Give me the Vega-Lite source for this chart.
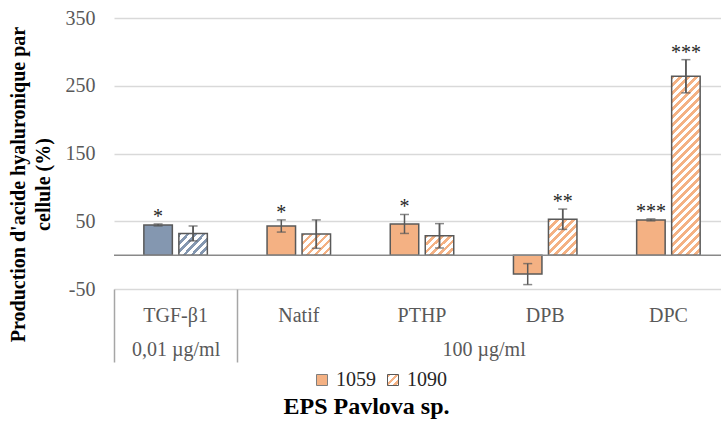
{
  "$schema": "https://vega.github.io/schema/vega-lite/v6.json",
  "width": 616,
  "height": 271,
  "autosize": {"type": "none"},
  "padding": {"left": 114, "top": 18, "right": 0, "bottom": 148},
  "config": {
    "font": "Liberation Serif",
    "view": {"stroke": null},
    "axis": {"labelFont": "Liberation Serif", "titleFont": "Liberation Serif"},
    "legend": {"labelFont": "Liberation Serif"}
  },
  "datasets": {
    "bars": [
      {"cat": "TGF-β1", "series": "1059", "value": 44.5, "low": 43, "high": 46, "sig": "*"},
      {"cat": "TGF-β1", "series": "1090", "value": 32, "low": 21, "high": 43, "sig": ""},
      {"cat": "Natif", "series": "1059", "value": 43, "low": 34, "high": 52, "sig": "*"},
      {"cat": "Natif", "series": "1090", "value": 31, "low": 10, "high": 52, "sig": ""},
      {"cat": "PTHP", "series": "1059", "value": 46, "low": 32, "high": 60, "sig": "*"},
      {"cat": "PTHP", "series": "1090", "value": 28.5, "low": 10.5, "high": 46.5, "sig": ""},
      {"cat": "DPB", "series": "1059", "value": -28, "low": -43.5, "high": -12.5, "sig": ""},
      {"cat": "DPB", "series": "1090", "value": 53, "low": 38, "high": 68, "sig": "**"},
      {"cat": "DPC", "series": "1059", "value": 52, "low": 50.5, "high": 53.5, "sig": "***"},
      {"cat": "DPC", "series": "1090", "value": 264, "low": 239.5, "high": 288.5, "sig": "***"}
    ],
    "groups": [
      {"dose": "0,01 µg/ml", "from": 0, "to": 1},
      {"dose": "100 µg/ml", "from": 1, "to": 5}
    ]
  },
  "layer": [
    {
      "data": {"name": "bars"},
      "encoding": {
        "x": {
          "field": "cat",
          "type": "nominal",
          "sort": ["TGF-β1", "Natif", "PTHP", "DPB", "DPC"],
          "scale": {"paddingInner": 0, "paddingOuter": 0},
          "axis": {
            "title": null,
            "orient": "bottom",
            "labelAngle": 0,
            "ticks": false,
            "domain": false,
            "grid": false,
            "labelPadding": 16,
            "labelFontSize": 20,
            "labelColor": "#595959"
          }
        },
        "xOffset": {
          "field": "series",
          "type": "nominal",
          "scale": {"paddingInner": 0.186, "paddingOuter": 0.853}
        }
      },
      "layer": [
        {
          "mark": {"type": "bar", "stroke": "#595959", "strokeWidth": 1.5},
          "encoding": {
            "y": {
              "field": "value",
              "type": "quantitative",
              "scale": {"domain": [-50, 350], "nice": false, "zero": false},
              "axis": {
                "values": [-50, 50, 150, 250, 350],
                "labelExpr": "'' + datum.value",
                "domain": false,
                "ticks": false,
                "grid": true,
                "gridColor": "#d9d9d9",
                "gridWidth": 1.5,
                "labelFontSize": 20,
                "labelColor": "#595959",
                "labelPadding": 19,
                "title": ["Production d'acide hyaluronique par", "cellule (%)"],
                "titleFontSize": 20,
                "titleFontWeight": "bold",
                "titleColor": "#000000",
                "titleLineHeight": 25,
                "titleAngle": -90,
                "titleBaseline": "middle",
                "titleAlign": "center",
                "titleX": -96,
                "titleY": 166
              }
            },
            "y2": {"datum": 0},
            "fill": {
              "field": "series",
              "type": "nominal",
              "scale": {"domain": ["1059"], "range": ["#f4b183"]},
              "legend": {
                "title": null,
                "orient": "none",
                "legendX": 198,
                "legendY": 352,
                "direction": "horizontal",
                "symbolType": "square",
                "symbolSize": 121,
                "symbolStrokeColor": "#7f7f7f",
                "symbolStrokeWidth": 1,
                "symbolOpacity": 1,
                "labelFontSize": 20,
                "labelColor": "#262626",
                "labelOffset": 4
              },
              "condition": [
                {"test": "datum.cat === 'TGF-β1' && datum.series === '1059'", "value": "#8497b0"},
                {"test": "datum.cat === 'TGF-β1' && datum.series === '1090'", "value": {"gradient": "linear", "x1": 0, "y1": 0, "x2": 1.13, "y2": 0.82, "stops": [
                  {"offset": 0, "color": "#8497b0"}, {"offset": 0.073, "color": "#8497b0"}, {"offset": 0.073, "color": "#ffffff"}, {"offset": 0.162, "color": "#ffffff"},
                  {"offset": 0.162, "color": "#8497b0"}, {"offset": 0.235, "color": "#8497b0"}, {"offset": 0.235, "color": "#ffffff"}, {"offset": 0.324, "color": "#ffffff"},
                  {"offset": 0.324, "color": "#8497b0"}, {"offset": 0.397, "color": "#8497b0"}, {"offset": 0.397, "color": "#ffffff"}, {"offset": 0.486, "color": "#ffffff"},
                  {"offset": 0.486, "color": "#8497b0"}, {"offset": 0.559, "color": "#8497b0"}, {"offset": 0.559, "color": "#ffffff"}, {"offset": 0.648, "color": "#ffffff"},
                  {"offset": 0.648, "color": "#8497b0"}, {"offset": 0.721, "color": "#8497b0"}, {"offset": 0.721, "color": "#ffffff"}, {"offset": 0.81, "color": "#ffffff"},
                  {"offset": 0.81, "color": "#8497b0"}, {"offset": 0.883, "color": "#8497b0"}, {"offset": 0.883, "color": "#ffffff"}, {"offset": 0.972, "color": "#ffffff"},
                  {"offset": 0.972, "color": "#8497b0"}, {"offset": 1, "color": "#8497b0"}
                ]}},
                {"test": "datum.series === '1090' && (datum.cat === 'Natif' || datum.cat === 'PTHP')", "value": {"gradient": "linear", "x1": 0, "y1": 0, "x2": 1.13, "y2": 0.82, "stops": [
                  {"offset": 0, "color": "#f4b183"}, {"offset": 0.073, "color": "#f4b183"}, {"offset": 0.073, "color": "#ffffff"}, {"offset": 0.162, "color": "#ffffff"},
                  {"offset": 0.162, "color": "#f4b183"}, {"offset": 0.235, "color": "#f4b183"}, {"offset": 0.235, "color": "#ffffff"}, {"offset": 0.324, "color": "#ffffff"},
                  {"offset": 0.324, "color": "#f4b183"}, {"offset": 0.397, "color": "#f4b183"}, {"offset": 0.397, "color": "#ffffff"}, {"offset": 0.486, "color": "#ffffff"},
                  {"offset": 0.486, "color": "#f4b183"}, {"offset": 0.559, "color": "#f4b183"}, {"offset": 0.559, "color": "#ffffff"}, {"offset": 0.648, "color": "#ffffff"},
                  {"offset": 0.648, "color": "#f4b183"}, {"offset": 0.721, "color": "#f4b183"}, {"offset": 0.721, "color": "#ffffff"}, {"offset": 0.81, "color": "#ffffff"},
                  {"offset": 0.81, "color": "#f4b183"}, {"offset": 0.883, "color": "#f4b183"}, {"offset": 0.883, "color": "#ffffff"}, {"offset": 0.972, "color": "#ffffff"},
                  {"offset": 0.972, "color": "#f4b183"}, {"offset": 1, "color": "#f4b183"}
                ]}},
                {"test": "datum.series === '1090' && datum.cat === 'DPB'", "value": {"gradient": "linear", "x1": 0, "y1": 0, "x2": 0.874, "y2": 1.1, "stops": [
                  {"offset": 0, "color": "#f4b183"}, {"offset": 0.056, "color": "#f4b183"}, {"offset": 0.056, "color": "#ffffff"}, {"offset": 0.124, "color": "#ffffff"},
                  {"offset": 0.124, "color": "#f4b183"}, {"offset": 0.18, "color": "#f4b183"}, {"offset": 0.18, "color": "#ffffff"}, {"offset": 0.248, "color": "#ffffff"},
                  {"offset": 0.248, "color": "#f4b183"}, {"offset": 0.304, "color": "#f4b183"}, {"offset": 0.304, "color": "#ffffff"}, {"offset": 0.373, "color": "#ffffff"},
                  {"offset": 0.373, "color": "#f4b183"}, {"offset": 0.429, "color": "#f4b183"}, {"offset": 0.429, "color": "#ffffff"}, {"offset": 0.497, "color": "#ffffff"},
                  {"offset": 0.497, "color": "#f4b183"}, {"offset": 0.553, "color": "#f4b183"}, {"offset": 0.553, "color": "#ffffff"}, {"offset": 0.621, "color": "#ffffff"},
                  {"offset": 0.621, "color": "#f4b183"}, {"offset": 0.677, "color": "#f4b183"}, {"offset": 0.677, "color": "#ffffff"}, {"offset": 0.745, "color": "#ffffff"},
                  {"offset": 0.745, "color": "#f4b183"}, {"offset": 0.801, "color": "#f4b183"}, {"offset": 0.801, "color": "#ffffff"}, {"offset": 0.869, "color": "#ffffff"},
                  {"offset": 0.869, "color": "#f4b183"}, {"offset": 0.925, "color": "#f4b183"}, {"offset": 0.925, "color": "#ffffff"}, {"offset": 0.994, "color": "#ffffff"},
                  {"offset": 0.994, "color": "#f4b183"}, {"offset": 1, "color": "#f4b183"}
                ]}},
                {"test": "datum.series === '1090' && datum.cat === 'DPC'", "value": {"gradient": "linear", "x1": 0, "y1": 0, "x2": 0.18, "y2": 1.131, "stops": [
                  {"offset": 0, "color": "#f4b183"}, {"offset": 0.0174, "color": "#f4b183"}, {"offset": 0.0174, "color": "#ffffff"}, {"offset": 0.0386, "color": "#ffffff"},
                  {"offset": 0.0386, "color": "#f4b183"}, {"offset": 0.0559, "color": "#f4b183"}, {"offset": 0.0559, "color": "#ffffff"}, {"offset": 0.0771, "color": "#ffffff"},
                  {"offset": 0.0771, "color": "#f4b183"}, {"offset": 0.0945, "color": "#f4b183"}, {"offset": 0.0945, "color": "#ffffff"}, {"offset": 0.1157, "color": "#ffffff"},
                  {"offset": 0.1157, "color": "#f4b183"}, {"offset": 0.1331, "color": "#f4b183"}, {"offset": 0.1331, "color": "#ffffff"}, {"offset": 0.1543, "color": "#ffffff"},
                  {"offset": 0.1543, "color": "#f4b183"}, {"offset": 0.1716, "color": "#f4b183"}, {"offset": 0.1716, "color": "#ffffff"}, {"offset": 0.1929, "color": "#ffffff"},
                  {"offset": 0.1929, "color": "#f4b183"}, {"offset": 0.2102, "color": "#f4b183"}, {"offset": 0.2102, "color": "#ffffff"}, {"offset": 0.2314, "color": "#ffffff"},
                  {"offset": 0.2314, "color": "#f4b183"}, {"offset": 0.2488, "color": "#f4b183"}, {"offset": 0.2488, "color": "#ffffff"}, {"offset": 0.27, "color": "#ffffff"},
                  {"offset": 0.27, "color": "#f4b183"}, {"offset": 0.2874, "color": "#f4b183"}, {"offset": 0.2874, "color": "#ffffff"}, {"offset": 0.3086, "color": "#ffffff"},
                  {"offset": 0.3086, "color": "#f4b183"}, {"offset": 0.3259, "color": "#f4b183"}, {"offset": 0.3259, "color": "#ffffff"}, {"offset": 0.3471, "color": "#ffffff"},
                  {"offset": 0.3471, "color": "#f4b183"}, {"offset": 0.3645, "color": "#f4b183"}, {"offset": 0.3645, "color": "#ffffff"}, {"offset": 0.3857, "color": "#ffffff"},
                  {"offset": 0.3857, "color": "#f4b183"}, {"offset": 0.4031, "color": "#f4b183"}, {"offset": 0.4031, "color": "#ffffff"}, {"offset": 0.4243, "color": "#ffffff"},
                  {"offset": 0.4243, "color": "#f4b183"}, {"offset": 0.4416, "color": "#f4b183"}, {"offset": 0.4416, "color": "#ffffff"}, {"offset": 0.4628, "color": "#ffffff"},
                  {"offset": 0.4628, "color": "#f4b183"}, {"offset": 0.4802, "color": "#f4b183"}, {"offset": 0.4802, "color": "#ffffff"}, {"offset": 0.5014, "color": "#ffffff"},
                  {"offset": 0.5014, "color": "#f4b183"}, {"offset": 0.5188, "color": "#f4b183"}, {"offset": 0.5188, "color": "#ffffff"}, {"offset": 0.54, "color": "#ffffff"},
                  {"offset": 0.54, "color": "#f4b183"}, {"offset": 0.5573, "color": "#f4b183"}, {"offset": 0.5573, "color": "#ffffff"}, {"offset": 0.5786, "color": "#ffffff"},
                  {"offset": 0.5786, "color": "#f4b183"}, {"offset": 0.5959, "color": "#f4b183"}, {"offset": 0.5959, "color": "#ffffff"}, {"offset": 0.6171, "color": "#ffffff"},
                  {"offset": 0.6171, "color": "#f4b183"}, {"offset": 0.6345, "color": "#f4b183"}, {"offset": 0.6345, "color": "#ffffff"}, {"offset": 0.6557, "color": "#ffffff"},
                  {"offset": 0.6557, "color": "#f4b183"}, {"offset": 0.6731, "color": "#f4b183"}, {"offset": 0.6731, "color": "#ffffff"}, {"offset": 0.6943, "color": "#ffffff"},
                  {"offset": 0.6943, "color": "#f4b183"}, {"offset": 0.7116, "color": "#f4b183"}, {"offset": 0.7116, "color": "#ffffff"}, {"offset": 0.7328, "color": "#ffffff"},
                  {"offset": 0.7328, "color": "#f4b183"}, {"offset": 0.7502, "color": "#f4b183"}, {"offset": 0.7502, "color": "#ffffff"}, {"offset": 0.7714, "color": "#ffffff"},
                  {"offset": 0.7714, "color": "#f4b183"}, {"offset": 0.7888, "color": "#f4b183"}, {"offset": 0.7888, "color": "#ffffff"}, {"offset": 0.81, "color": "#ffffff"},
                  {"offset": 0.81, "color": "#f4b183"}, {"offset": 0.8273, "color": "#f4b183"}, {"offset": 0.8273, "color": "#ffffff"}, {"offset": 0.8485, "color": "#ffffff"},
                  {"offset": 0.8485, "color": "#f4b183"}, {"offset": 0.8659, "color": "#f4b183"}, {"offset": 0.8659, "color": "#ffffff"}, {"offset": 0.8871, "color": "#ffffff"},
                  {"offset": 0.8871, "color": "#f4b183"}, {"offset": 0.9045, "color": "#f4b183"}, {"offset": 0.9045, "color": "#ffffff"}, {"offset": 0.9257, "color": "#ffffff"},
                  {"offset": 0.9257, "color": "#f4b183"}, {"offset": 0.943, "color": "#f4b183"}, {"offset": 0.943, "color": "#ffffff"}, {"offset": 0.9643, "color": "#ffffff"},
                  {"offset": 0.9643, "color": "#f4b183"}, {"offset": 0.9816, "color": "#f4b183"}, {"offset": 0.9816, "color": "#ffffff"}, {"offset": 1, "color": "#ffffff"}
                ]}}
              ]
            }
          }
        },
        {
          "mark": {"type": "rule", "color": "#595959", "strokeWidth": 1.5},
          "encoding": {
            "y": {"field": "low", "type": "quantitative"},
            "y2": {"field": "high"}
          }
        },
        {
          "transform": [{"filter": "datum.series === '1090'"}],
          "mark": {"type": "rule", "strokeWidth": 1.5},
          "encoding": {
            "y": {"field": "low", "type": "quantitative"},
            "y2": {"field": "high"},
            "stroke": {
              "field": "series",
              "type": "nominal",
              "scale": {"domain": ["1090"], "range": ["#595959"]},
              "legend": {
                "title": null,
                "orient": "none",
                "legendX": 269,
                "legendY": 352,
                "direction": "horizontal",
                "symbolType": "square",
                "symbolSize": 121,
                "symbolStrokeWidth": 1,
                "symbolFillColor": {"value": {"gradient": "linear", "x1": 0, "y1": 0, "x2": 1, "y2": 1, "stops": [
                  {"offset": 0, "color": "#f4b183"}, {"offset": 0.164, "color": "#f4b183"}, {"offset": 0.164, "color": "#ffffff"}, {"offset": 0.364, "color": "#ffffff"},
                  {"offset": 0.364, "color": "#f4b183"}, {"offset": 0.527, "color": "#f4b183"}, {"offset": 0.527, "color": "#ffffff"}, {"offset": 0.727, "color": "#ffffff"},
                  {"offset": 0.727, "color": "#f4b183"}, {"offset": 0.891, "color": "#f4b183"}, {"offset": 0.891, "color": "#ffffff"}, {"offset": 1, "color": "#ffffff"}
                ]}},
                "labelFontSize": 20,
                "labelColor": "#262626",
                "labelOffset": 4
              }
            }
          }
        },
        {
          "mark": {"type": "tick", "color": "#595959", "thickness": 1.5, "size": 9, "orient": "horizontal"},
          "encoding": {"y": {"field": "low", "type": "quantitative"}}
        },
        {
          "mark": {"type": "tick", "color": "#595959", "thickness": 1.5, "size": 9, "orient": "horizontal"},
          "encoding": {"y": {"field": "high", "type": "quantitative"}}
        },
        {
          "mark": {"type": "text", "fontSize": 20, "color": "#262626", "baseline": "alphabetic", "dy": -1},
          "encoding": {
            "y": {"field": "high", "type": "quantitative"},
            "text": {"field": "sig"}
          }
        }
      ]
    },
    {
      "data": {"values": [{"baseline": 0}]},
      "mark": {"type": "rule", "color": "#898989", "strokeWidth": 1.5},
      "encoding": {"y": {"field": "baseline", "type": "quantitative"}}
    },
    {
      "data": {"name": "groups"},
      "mark": {"type": "point", "opacity": 0},
      "encoding": {
        "x": {
          "field": "from",
          "type": "quantitative",
          "scale": {"domain": [0, 5], "nice": false, "zero": false},
          "axis": {
            "orient": "bottom",
            "title": "EPS Pavlova sp.",
            "titleFontSize": 24,
            "titleFontWeight": "bold",
            "titleColor": "#000000",
            "titleX": 252,
            "titleY": 117,
            "titleBaseline": "middle",
            "titleAlign": "center",
            "values": [0, 0.5, 1, 3],
            "labelExpr": "datum.value == 0.5 ? '0,01 µg/ml' : datum.value == 3 ? '100 µg/ml' : ''",
            "domain": false,
            "grid": false,
            "ticks": true,
            "tickSize": 73,
            "tickWidth": 1.5,
            "tickColor": "#a6a6a6",
            "tickOpacity": {"condition": {"test": "datum.value == 0 || datum.value == 1", "value": 1}, "value": 0},
            "labelPadding": -23,
            "labelFontSize": 20,
            "labelColor": "#595959",
            "labelFlush": false,
            "labelOverlap": false
          }
        }
      }
    }
  ],
  "resolve": {"scale": {"x": "independent"}, "axis": {"x": "independent"}}
}
